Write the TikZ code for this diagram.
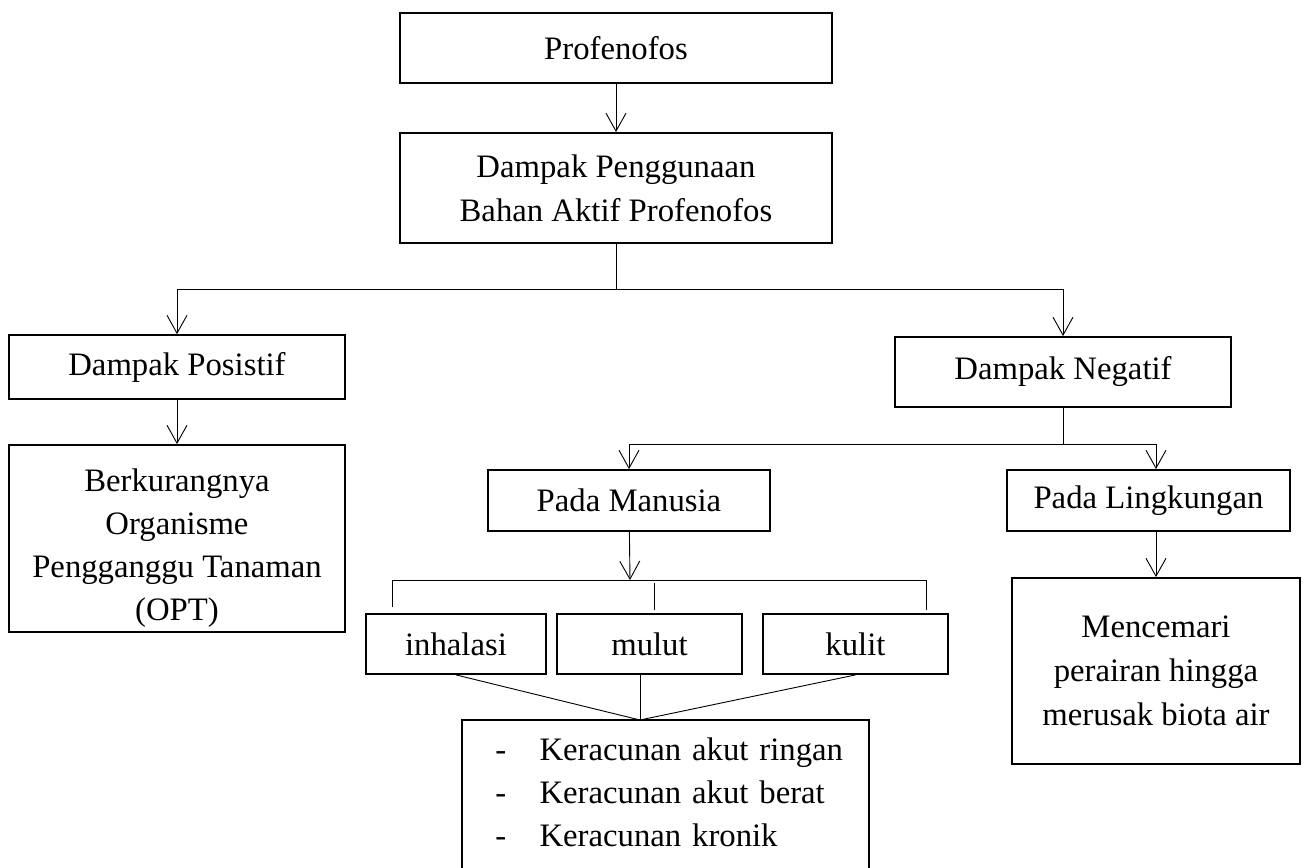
\documentclass[tikz,border=0pt]{standalone}
\usepackage{fontspec}
\setmainfont{Liberation Serif}
\usetikzlibrary{arrows.meta}

\begin{document}
\begin{tikzpicture}[x=0.385pt, y=-0.385pt,
    >={Straight Barb[length=6.9pt,width=7.7pt]},
    box/.style={draw, line width=0.7pt, align=center, inner sep=0pt,
      font=\fontsize{12.6}{17}\selectfont},
    conn/.style={line width=0.35pt}]
    \useasboundingbox (0,0) rectangle (1309,868);
    \node[box, minimum width=166.3pt, minimum height=27pt] (a) at (616, 48) {Profenofos};
    \node[box, minimum width=166.3pt, minimum height=42.4pt] (b) at (616, 188) {Dampak Penggunaan\\Bahan Aktif Profenofos};
    \node[box, minimum width=129.4pt, minimum height=24.6pt] (c) at (177, 367) {Dampak Posistif};
    \node[box, minimum width=129.4pt, minimum height=72pt,
      font=\fontsize{12.6}{16.5}\selectfont] (d) at (177, 538.5) {\rule{0pt}{16pt}Berkurangnya\\Organisme\\Pengganggu Tanaman\\(OPT)};
    \node[box, minimum width=129.4pt, minimum height=27pt] (e) at (1063, 372) {Dampak Negatif};
    \node[box, minimum width=108.6pt, minimum height=23.5pt] (f) at (629, 500.5) {Pada Manusia};
    \node[box, minimum width=109pt, minimum height=23.5pt] (g) at (1148.5, 500.5) {Pada Lingkungan};
    \node[box, minimum width=110.9pt, minimum height=71.6pt] (h) at (1156, 671) {Mencemari\\perairan hingga\\merusak biota air};
    \node[box, minimum width=69.3pt, minimum height=23.1pt] (i) at (456, 644) {inhalasi};
    \node[box, minimum width=71.2pt, minimum height=23.1pt] (j) at (649.5, 644) {mulut};
    \node[box, minimum width=71.2pt, minimum height=23.1pt] (k) at (855.5, 644) {kulit};
    \node[box, minimum width=156.7pt, minimum height=57.75pt, text width=131pt,
      inner xsep=12.85pt, inner ysep=0pt, align=left] (l) at (665.5, 795)
      {\renewcommand{\arraystretch}{0.97}%
       \begin{tabular}{@{}p{17pt}@{}l@{}}
        - & Keracunan akut ringan\\
        - & Keracunan akut berat\\
        - & Keracunan kronik
      \end{tabular}};
    % junctions
    \coordinate (s) at (616, 289);
    \coordinate (n) at (1063, 444);
    \coordinate (m1) at (630, 580);
    \coordinate (p1) at (392, 580);
    \coordinate (p2) at (654, 583);
    \coordinate (p3) at (926, 580);
    \coordinate (q1) at (392, 607);
    \coordinate (q2) at (654, 610);
    \coordinate (q3) at (926, 610);
    \coordinate (m) at (640, 720);
    \draw [conn,->] (a) -- (b);
    \draw [conn] (b) -- (s);
    \draw [conn,->] (s) -| (c);
    \draw [conn,->] (s) -| (e);
    \draw [conn,->] (c) -- (d);
    \draw [conn] (e) -- (n);
    \draw [conn,->] (n) -| (f);
    \draw [conn,->] (n) -| (g.north -| h);
    \draw [conn,->] (g.south -| h) -- (h);
    \draw [conn,->] (f) -- (m1);
    \draw [conn] (p1) -- (p3);
    \draw [conn] (p1) -- (q1);
    \draw [conn] (p2) -- (q2);
    \draw [conn] (p3) -- (q3);
    \draw [conn] (i.south) -- (m);
    \draw [conn] (j.south -| m) -- (m);
    \draw [conn] (k.south) -- (m);
\end{tikzpicture}
\end{document}
